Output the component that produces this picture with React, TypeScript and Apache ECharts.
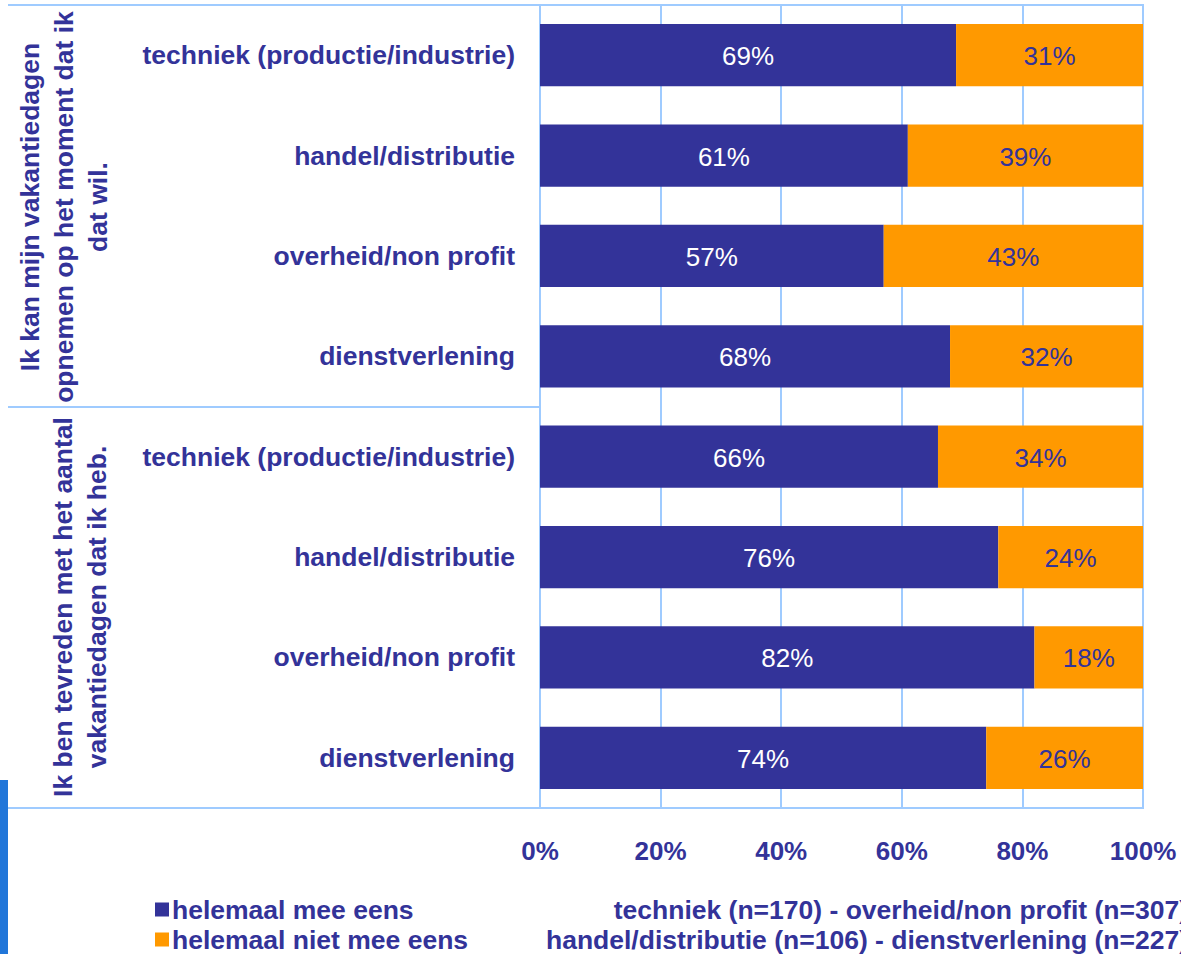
import React, { useEffect, useRef } from "react";
import * as echarts from "echarts";

const categories = [
  "techniek (productie/industrie)",
  "handel/distributie",
  "overheid/non profit",
  "dienstverlening",
  "techniek (productie/industrie)",
  "handel/distributie",
  "overheid/non profit",
  "dienstverlening",
];
const eensValues = [69, 61, 57, 68, 66, 76, 82, 74];
const nietEensValues = [31, 39, 43, 32, 34, 24, 18, 26];
const seriesNames = ["helemaal mee eens", "helemaal niet mee eens"];
const groupLabels = [
  "Ik kan mijn vakantiedagen\nopnemen op het moment dat ik\ndat wil.",
  "Ik ben tevreden met het aantal\nvakantiedagen dat ik heb.",
];
const noteLines = [
  "techniek (n=170) - overheid/non profit (n=307)",
  "handel/distributie (n=106) - dienstverlening (n=227)",
];

const FONT = "'Liberation Sans', Arial, Helvetica, sans-serif";
const NAVY = "#333399";
const ORANGE = "#FF9900";
const GRIDC = "#9FCBFF";
const FS = 26.5;

const legendBase = {
  orient: "vertical",
  left: 150,
  itemWidth: 14,
  itemHeight: 14,
  icon: "rect",
  textStyle: {
    color: NAVY,
    fontWeight: "bold",
    fontSize: FS,
    fontFamily: FONT,
    padding: [0, 0, 0, -2],
  },
};

export default function App() {
  const ref = useRef<HTMLDivElement>(null);
  useEffect(() => {
    if (!ref.current) return;
    const chart = echarts.init(ref.current, null, { renderer: "svg" });
    chart.setOption({
      animation: false,
      backgroundColor: "#ffffff",
      textStyle: { fontFamily: FONT },
      grid: {
        left: 540,
        right: 38,
        top: 5,
        bottom: 146,
        show: true,
        borderColor: GRIDC,
        borderWidth: 2,
        backgroundColor: "transparent",
      },
      xAxis: {
        type: "value",
        min: 0,
        max: 100,
        interval: 20,
        axisLine: { show: true, lineStyle: { color: GRIDC, width: 2 } },
        axisTick: { show: false },
        splitLine: { show: true, lineStyle: { color: GRIDC, width: 2 } },
        axisLabel: {
          formatter: "{value}%",
          color: NAVY,
          fontWeight: "bold",
          fontSize: 26,
          fontFamily: FONT,
          margin: 30,
        },
      },
      yAxis: {
        type: "category",
        inverse: true,
        data: categories,
        axisLine: { show: true, lineStyle: { color: GRIDC, width: 2 } },
        axisTick: { show: false },
        axisLabel: {
          color: NAVY,
          fontWeight: "bold",
          fontSize: FS,
          fontFamily: FONT,
          margin: 25,
        },
      },
      legend: [
        { ...legendBase, top: 891, data: [seriesNames[0]] },
        { ...legendBase, top: 921, data: [seriesNames[1]] },
      ],
      series: [
        {
          name: seriesNames[0],
          type: "bar",
          stack: "total",
          barCategoryGap: "38%",
          data: eensValues,
          itemStyle: { color: NAVY },
          label: {
            show: true,
            position: "inside",
            formatter: "{c}%",
            color: "#ffffff",
            fontSize: 26,
            fontFamily: FONT,
            offset: [0, 1],
          },
        },
        {
          name: seriesNames[1],
          type: "bar",
          stack: "total",
          barCategoryGap: "38%",
          data: nietEensValues,
          itemStyle: { color: ORANGE },
          label: {
            show: true,
            position: "inside",
            formatter: "{c}%",
            color: NAVY,
            fontSize: 26,
            fontFamily: FONT,
            offset: [0, 1],
          },
        },
      ],
      graphic: [
        { type: "line", shape: { x1: 8, y1: 5, x2: 540, y2: 5 }, style: { stroke: GRIDC, lineWidth: 2 } },
        { type: "line", shape: { x1: 8, y1: 407, x2: 540, y2: 407 }, style: { stroke: GRIDC, lineWidth: 2 } },
        { type: "line", shape: { x1: 8, y1: 808, x2: 540, y2: 808 }, style: { stroke: GRIDC, lineWidth: 2 } },
        { type: "rect", shape: { x: 0, y: 780, width: 8, height: 174 }, style: { fill: "#2176D9" } },
        {
          type: "text",
          x: 64,
          y: 207,
          rotation: Math.PI / 2,
          style: {
            text: groupLabels[0],
            align: "center",
            verticalAlign: "middle",
            lineHeight: 34,
            fill: NAVY,
            font: `bold ${FS}px ${FONT}`,
          },
        },
        {
          type: "text",
          x: 80,
          y: 607,
          rotation: Math.PI / 2,
          style: {
            text: groupLabels[1],
            align: "center",
            verticalAlign: "middle",
            lineHeight: 34,
            fill: NAVY,
            font: `bold ${FS}px ${FONT}`,
          },
        },
        {
          type: "text",
          x: 1188,
          y: 910,
          style: {
            text: noteLines[0],
            align: "right",
            verticalAlign: "middle",
            fill: NAVY,
            font: `bold ${FS}px ${FONT}`,
          },
        },
        {
          type: "text",
          x: 1188,
          y: 940,
          style: {
            text: noteLines[1],
            align: "right",
            verticalAlign: "middle",
            fill: NAVY,
            font: `bold ${FS}px ${FONT}`,
          },
        },
      ],
    });
    return () => chart.dispose();
  }, []);
  return (
    <div
      ref={ref}
      style={{ position: "fixed", left: 0, top: 0, width: 1181, height: 954 }}
    />
  );
}
